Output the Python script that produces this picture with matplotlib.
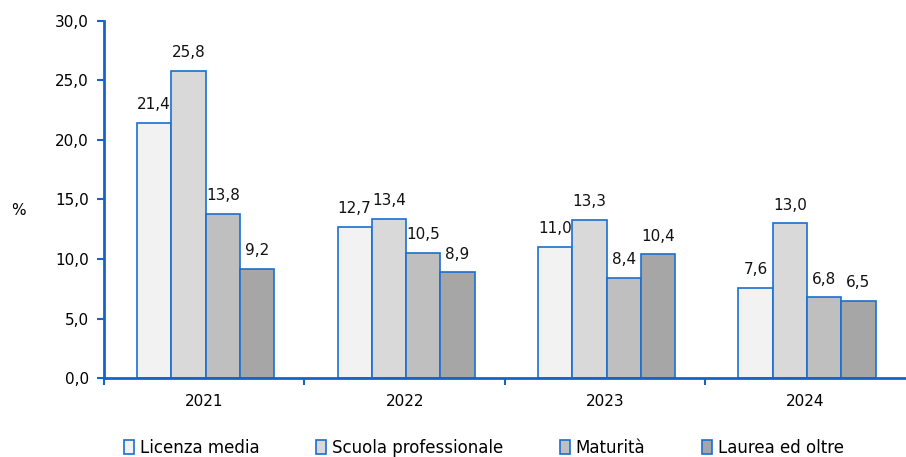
import matplotlib
matplotlib.use("Agg")
import matplotlib.pyplot as plt
import numpy as np
from matplotlib.ticker import FixedLocator

years = ["2021", "2022", "2023", "2024"]
series = ["Licenza media", "Scuola professionale", "Maturità", "Laurea ed oltre"]
licenza = [21.4, 12.7, 11.0, 7.6]
scuola = [25.8, 13.4, 13.3, 13.0]
maturita = [13.8, 10.5, 8.4, 6.8]
laurea = [9.2, 8.9, 10.4, 6.5]

fills = ["#f2f2f2", "#d9d9d9", "#bfbfbf", "#a6a6a6"]
edge = "#1a6fd0"
axis_blue = "#1565c8"

plt.rcParams["font.family"] = ["DejaVu Sans"]

fig = plt.figure(figsize=(9.06, 4.57), dpi=100)
ax = fig.add_axes([0.1148, 0.172, 0.885, 0.783])

x = np.arange(len(years))
width = 0.171
values = [licenza, scuola, maturita, laurea]
for i, (vals, name, col) in enumerate(zip(values, series, fills)):
    pos = x + (i - 1.5) * width + 0.007
    bars = ax.bar(pos, vals, width, color=col, edgecolor=edge, linewidth=1.2, label=name)
    for b, v in zip(bars, vals):
        ax.text(b.get_x() + b.get_width() / 2, v + 0.9, f"{v:.1f}".replace(".", ","),
                ha="center", va="bottom", fontsize=11, color="#111111")

ax.set_xlim(-0.5, 3.5)
ax.set_ylim(0, 30)
ax.set_yticks(np.arange(0, 31, 5))
ax.set_yticklabels([f"{t:.1f}".replace(".", ",") for t in np.arange(0, 31, 5)], fontsize=11)
ax.set_xticks(x)
ax.set_xticklabels(years, fontsize=11)
ax.tick_params(axis="x", length=0, pad=11)
ax.xaxis.set_minor_locator(FixedLocator([-0.5, 0.5, 1.5, 2.5]))
ax.tick_params(axis="x", which="minor", length=5, width=1.5, color=axis_blue, direction="out")
ax.tick_params(axis="y", length=5, width=1.5, color=axis_blue, direction="out", pad=6)

for s in ["top", "right"]:
    ax.spines[s].set_visible(False)
for s in ["left", "bottom"]:
    ax.spines[s].set_color(axis_blue)
    ax.spines[s].set_linewidth(2)

ax.set_ylabel("%", rotation=0, fontsize=11, va="center")
ax.yaxis.set_label_coords(-0.107, 0.47)

leg = ax.legend(loc="upper center", bbox_to_anchor=(0.474, -0.141), ncol=4, frameon=False,
                fontsize=12, handlelength=0.6, handleheight=0.85, handletextpad=0.35,
                columnspacing=3.4, borderaxespad=0.2)

fig.savefig("out.png", dpi=100)
